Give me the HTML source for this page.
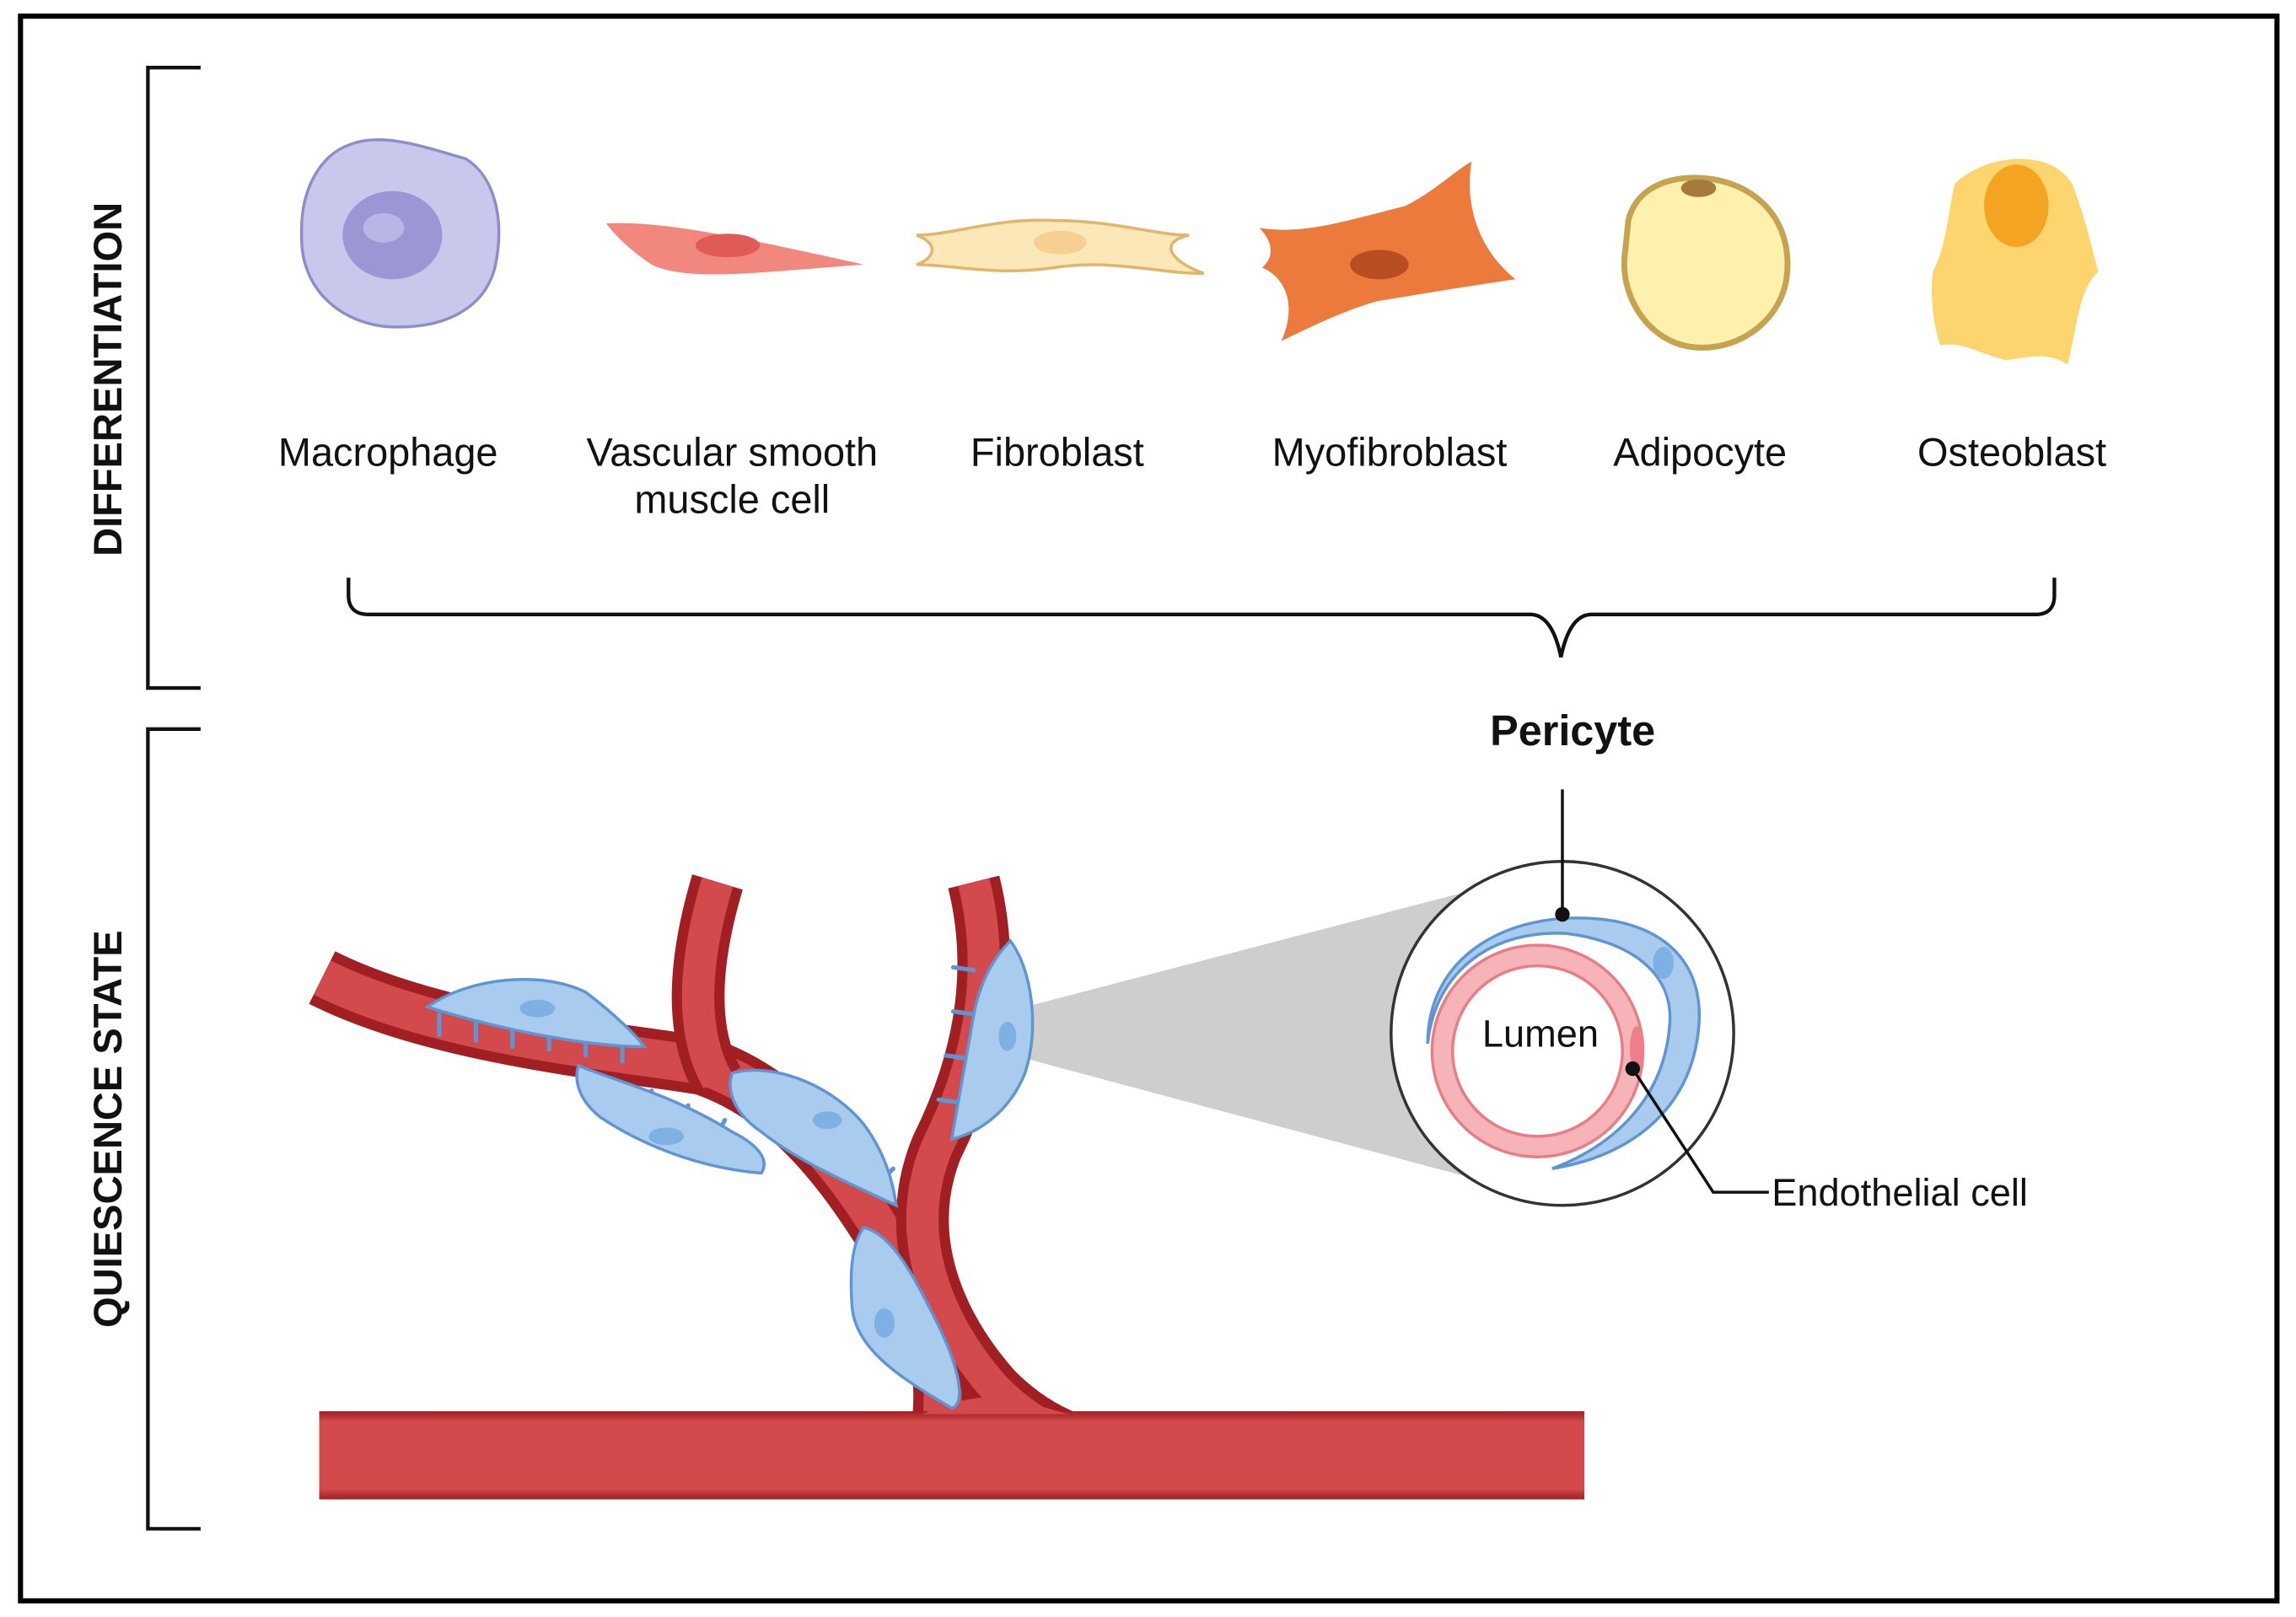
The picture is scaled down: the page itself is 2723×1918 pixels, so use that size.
<!DOCTYPE html>
<html><head><meta charset="utf-8"><style>
html,body{margin:0;padding:0;background:#fff;}
svg{display:block;}
text{font-family:"Liberation Sans",sans-serif;}
</style></head><body>
<svg width="2723" height="1918" viewBox="0 0 1568 1100" preserveAspectRatio="none" xmlns="http://www.w3.org/2000/svg">
<rect x="0" y="0" width="1568" height="1100" fill="#fff"/>
<rect x="14" y="11" width="1541" height="1078" fill="none" stroke="#000" stroke-width="3.5"/>
<path d="M137,46 H101 V468 H137" fill="none" stroke="#111" stroke-width="2.5"/>
<path d="M137,496 H101 V1040 H137" fill="none" stroke="#111" stroke-width="2.5"/>
<text transform="translate(83,258) rotate(-90)" text-anchor="middle" font-size="27" font-weight="bold" fill="#111">DIFFERENTIATION</text>
<text transform="translate(83,768) rotate(-90)" text-anchor="middle" font-size="27" font-weight="bold" fill="#111">QUIESCENCE STATE</text>
<g>
<path d="M240,98 C262,90 290,100 318,108 C338,120 345,150 338,182 C330,212 300,225 262,222 C230,218 205,195 206,160 C205,130 218,105 240,98Z" fill="#c9c8ec" stroke="#8f8dc9" stroke-width="2"/>
<ellipse cx="268" cy="160" rx="34" ry="30" fill="#9a97d4"/>
<ellipse cx="262" cy="155" rx="14" ry="10" fill="#b8b6e4"/>
</g>
<path d="M414,152 C450,150 500,160 590,180 C520,185 470,192 445,180 C430,170 420,160 414,152Z" fill="#f2877e"/>
<ellipse cx="497" cy="167" rx="22" ry="8" fill="#e05a56"/>
<path d="M626,160 C650,160 680,148 720,150 C760,150 790,160 812,160 C790,165 800,178 822,186 C790,186 760,176 720,182 C680,188 650,180 626,180 C640,175 640,165 626,160Z" fill="#fbe7b8" stroke="#e2b56a" stroke-width="2"/>
<ellipse cx="724" cy="165" rx="18" ry="8" fill="#f6cf91"/>
<path d="M860,155 C890,160 920,150 960,140 C980,130 995,115 1005,110 C1000,140 1010,170 1035,190 C1000,195 970,200 940,205 C915,212 890,225 875,232 C885,210 880,190 862,182 C870,175 870,165 860,155Z" fill="#ec7a3c"/>
<ellipse cx="942" cy="180" rx="20" ry="10" fill="#b94d22"/>
<path d="M1112,150 C1118,125 1145,118 1170,122 C1205,128 1225,155 1220,190 C1215,220 1185,240 1155,236 C1125,232 1105,200 1110,170Z" fill="#fdf1ad" stroke="#c6a34e" stroke-width="4"/>
<ellipse cx="1160" cy="128" rx="12" ry="6" fill="#a57a3a"/>
<path d="M1335,125 C1355,105 1400,100 1415,125 C1425,150 1430,175 1433,185 C1420,195 1418,225 1412,248 C1400,240 1390,242 1370,245 C1350,240 1340,232 1325,235 C1320,220 1318,200 1320,185 C1330,165 1330,145 1335,125Z" fill="#fcd56e"/>
<ellipse cx="1377" cy="140" rx="22" ry="28" fill="#f3a522"/>
<g font-size="27" fill="#111" text-anchor="middle">
<text x="265" y="317">Macrophage</text>
<text x="500" y="317">Vascular smooth</text>
<text x="500" y="349">muscle cell</text>
<text x="722" y="317">Fibroblast</text>
<text x="949" y="317">Myofibroblast</text>
<text x="1161" y="317">Adipocyte</text>
<text x="1374" y="317">Osteoblast</text>
</g>
<path d="M238,393 V405 Q238,418 252,418 H1045 Q1060,418 1066,447 Q1072,418 1087,418 H1390 Q1403,418 1403,405 V393" fill="none" stroke="#111" stroke-width="2.5"/>
<text x="1074" y="507" text-anchor="middle" font-size="29" font-weight="bold" fill="#111">Pericyte</text>
<path d="M700,685 L1000,607 L1000,800 L700,720Z" fill="#cfcdce"/>
<defs>
<linearGradient id="hv" x1="0" y1="0" x2="0" y2="1"><stop offset="0" stop-color="#a11e22"/><stop offset="0.12" stop-color="#d24a4c"/><stop offset="0.88" stop-color="#d24a4c"/><stop offset="1" stop-color="#a11e22"/></linearGradient>
</defs>
<g fill="none" stroke-linecap="butt">
<path d="M220,665 C300,705 420,715 480,725 C540,745 580,800 610,850 C640,900 650,930 640,990" stroke="#a11e22" stroke-width="40"/>
<path d="M220,665 C300,705 420,715 480,725 C540,745 580,800 610,850 C640,900 650,930 640,990" stroke="#d24a4c" stroke-width="26"/>
<path d="M490,600 C475,650 470,700 490,735" stroke="#a11e22" stroke-width="36"/>
<path d="M490,600 C475,650 470,700 490,735" stroke="#d24a4c" stroke-width="22"/>
<path d="M665,600 C680,660 670,720 640,780 C615,840 640,900 680,945 C710,975 740,985 780,990" stroke="#a11e22" stroke-width="36"/>
<path d="M665,600 C680,660 670,720 640,780 C615,840 640,900 680,945 C710,975 740,985 780,990" stroke="#d24a4c" stroke-width="22"/>
</g>
<path d="M218,960 H1082 V1020 H218Z" fill="url(#hv)"/>
<path d="M630,962 C680,940 700,955 730,962Z" fill="#d24a4c"/>
<g fill="none" stroke="#5e95d2" stroke-width="3" stroke-linecap="round">
<path d="M300,690 v14 M325,692 v16 M350,696 v16 M375,698 v16 M400,702 v16 M425,708 v14"/>
<path d="M420,735 l-8,14 M445,742 l-8,14 M470,752 l-8,14 M495,762 l-8,14"/>
<path d="M530,750 l10,-10 M555,765 l10,-10 M580,785 l10,-10 M600,805 l10,-10"/>
<path d="M598,860 l14,-6 M608,885 l14,-6 M620,910 l14,-6 M632,935 l14,-6"/>
<path d="M665,660 l-14,-2 M665,690 l-14,-2 M660,720 l-14,-2 M655,750 l-14,-2"/>
</g>
<g fill="#a9cbee" stroke="#5e95d2" stroke-width="2">
<path d="M292,685 C320,665 370,660 400,675 C420,690 435,705 440,712 C400,712 340,700 292,685Z"/>
<path d="M395,725 C420,735 460,745 500,770 C520,780 525,790 520,798 C480,795 440,780 410,760 C395,748 392,735 395,725Z"/>
<path d="M500,730 C530,722 570,740 590,765 C605,785 610,805 612,820 C580,805 545,790 520,770 C505,760 495,745 500,730Z"/>
<path d="M590,835 C610,840 625,870 640,900 C655,930 660,955 650,958 C620,940 585,920 582,890 C580,865 582,845 590,835Z"/>
<path d="M690,640 C705,660 710,700 700,730 C690,755 670,770 650,775 C655,745 660,720 665,690 C670,665 680,650 690,640Z"/>
</g>
<g fill="#7fb0e3"><ellipse cx="367" cy="686" rx="12" ry="6"/><ellipse cx="455" cy="773" rx="12" ry="6"/><ellipse cx="565" cy="762" rx="10" ry="6"/><ellipse cx="604" cy="900" rx="7" ry="10"/><ellipse cx="688" cy="705" rx="6" ry="10"/></g>
<circle cx="1067" cy="703" r="117" fill="#fff" stroke="#333" stroke-width="2"/>
<path d="M975,710 C975,650 1030,620 1090,625 C1130,628 1165,650 1160,700 C1155,750 1120,785 1060,795 C1100,780 1135,750 1140,700 C1145,660 1110,640 1070,635 C1020,632 980,660 975,710Z" fill="#a9cbee" stroke="#5e95d2" stroke-width="2"/>
<ellipse cx="1136" cy="655" rx="7" ry="11" fill="#7fb0e3"/>
<circle cx="1050" cy="715" r="72" fill="#f7b4b8" stroke="#e77e86" stroke-width="2"/>
<circle cx="1050" cy="715" r="58" fill="#fff" stroke="#e77e86" stroke-width="2"/>
<ellipse cx="1118" cy="713" rx="5" ry="15" fill="#ef7f8a"/>
<text x="1052" y="712" text-anchor="middle" font-size="26" fill="#111">Lumen</text>
<line x1="1067" y1="537" x2="1067" y2="622" stroke="#111" stroke-width="2"/>
<circle cx="1067" cy="622" r="5" fill="#111"/>
<path d="M1115,727 L1170,811 H1208" fill="none" stroke="#111" stroke-width="2"/>
<circle cx="1115" cy="727" r="5" fill="#111"/>
<text x="1210" y="820" font-size="26" fill="#111">Endothelial cell</text>
</svg>
</body></html>
